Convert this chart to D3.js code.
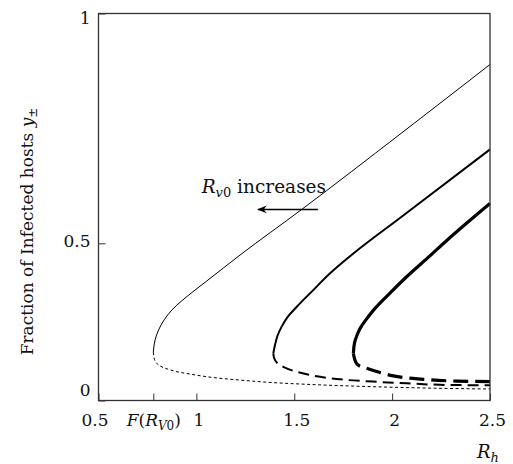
<!DOCTYPE html>
<html>
<head>
<meta charset="utf-8">
<script src="https://cdn.jsdelivr.net/npm/d3@7"></script>
<style>
  body { margin: 0; background: #fff; }
  svg text { fill: #111; }
</style>
</head>
<body>
<svg id="chart" width="513" height="464"></svg>
<script>
const serif = "DejaVu Serif";

// Tick values
const xTicks = [0.5, 0.78, 1, 1.5, 2, 2.5];
const yTicks = [0, 0.5, 1];

// Branches [Rh, y]; each starts at its turning point
const upper1 = [[0.780, 0.202], [0.789, 0.240], [0.807, 0.270], [0.835, 0.299], [0.875, 0.327],
  [0.927, 0.353], [0.988, 0.379], [1.053, 0.405], [1.223, 0.471], [1.538, 0.581], [2.040, 0.750], [2.5, 0.897]];
const lower1 = [[0.780, 0.202], [0.784, 0.183], [0.797, 0.165], [0.882, 0.139], [0.967, 0.127], [1.053, 0.117],
  [1.223, 0.104], [1.391, 0.094], [1.564, 0.087], [1.902, 0.077], [2.245, 0.070], [2.5, 0.067]];

const upper2 = [[1.393, 0.198], [1.402, 0.225], [1.414, 0.252], [1.435, 0.279], [1.463, 0.305],
  [1.513, 0.336], [1.597, 0.381], [1.683, 0.425], [1.802, 0.475], [2.040, 0.561], [2.5, 0.717]];
const lower2 = [[1.393, 0.198], [1.397, 0.183], [1.417, 0.163], [1.444, 0.153], [1.564, 0.126], [1.734, 0.107],
  [1.904, 0.098], [2.074, 0.091], [2.245, 0.085], [2.5, 0.083]];

const upper3 = [[1.802, 0.198], [1.808, 0.231], [1.821, 0.255], [1.838, 0.276], [1.867, 0.300],
  [1.904, 0.326], [1.989, 0.373], [2.074, 0.416], [2.193, 0.469], [2.279, 0.507], [2.5, 0.595]];
const lower3 = [[1.802, 0.198], [1.808, 0.180], [1.826, 0.159], [1.870, 0.148], [2.006, 0.120], [2.159, 0.107],
  [2.330, 0.100], [2.5, 0.098]];

const curves = [
  { upper: upper1, lower: lower1, width: 1, dash: '3,2.5' },
  { upper: upper2, lower: lower2, width: 2, dash: '11,6' },
  { upper: upper3, lower: lower3, width: 3.2, dash: '15,7' }
];

const margin = { top: 13.5, right: 23, bottom: 63.5, left: 98.5 };
const width = 513 - margin.left - margin.right;
const height = 464 - margin.top - margin.bottom;

const svg = d3.select('#chart');
const g = svg.append('g').attr('transform', `translate(${margin.left},${margin.top})`);

const x = d3.scaleLinear().domain([0.5, 2.5]).range([0, width]);
const y = d3.scalePow().exponent(1.3).domain([0, 1]).range([height, 0]);

const upperLine = d3.line()
  .x(d => x(d[0]))
  .y(d => y(d[1]))
  .curve(d3.curveMonotoneY);

const lowerLine = d3.line()
  .x(d => x(d[0]))
  .y(d => y(d[1]))
  .curve(d3.curveMonotoneX);

// Curves
curves.forEach(c => {
  g.append('path')
    .attr('d', upperLine(c.upper))
    .attr('fill', 'none')
    .attr('stroke', '#000')
    .attr('stroke-width', c.width);

  g.append('path')
    .attr('d', lowerLine(c.lower))
    .attr('fill', 'none')
    .attr('stroke', '#000')
    .attr('stroke-width', c.width)
    .attr('stroke-dasharray', c.dash);
});

// X axis
const xAxis = g.append('g')
  .attr('transform', `translate(0,${height})`)
  .call(d3.axisBottom(x).tickValues(xTicks).tickSize(-7).tickPadding(13)
    .tickFormat(d => d === 0.78 ? '' : d3.format('')(d)));
xAxis.attr('font-family', serif);
xAxis.select('.domain').remove();
xAxis.selectAll('line').attr('stroke', '#333');
xAxis.selectAll('text')
  .attr('font-size', 17)
  .attr('dx', d => d === 0.5 ? -4 : 2);

// F(R_V0) label
const fLabel = xAxis.selectAll('.tick').filter(d => d === 0.78).select('text');
fLabel.append('tspan').attr('font-style', 'italic').text('F');
fLabel.append('tspan').text('(');
fLabel.append('tspan').attr('font-style', 'italic').text('R');
fLabel.append('tspan').attr('font-style', 'italic').attr('font-size', 12).attr('dy', 4).text('V');
fLabel.append('tspan').attr('font-size', 12).text('0');
fLabel.append('tspan').attr('dy', -4).text(')');
fLabel.attr('dx', 0);

// Y axis
const yAxis = g.append('g')
  .call(d3.axisLeft(y).tickValues(yTicks).tickSize(-7).tickPadding(8)
    .tickFormat(d3.format('')));
yAxis.attr('font-family', serif);
yAxis.select('.domain').remove();
yAxis.selectAll('line').attr('stroke', '#333');
yAxis.selectAll('text')
  .attr('font-size', 17)
  .attr('dy', d => d === 0 ? '-0.3em' : d === 1 ? '0.6em' : '0.18em');

// Frame
g.append('rect')
  .attr('width', width)
  .attr('height', height)
  .attr('fill', 'none')
  .attr('stroke', '#333')
  .attr('stroke-width', 1.3);

// Axis titles
const yTitle = svg.append('text')
  .attr('transform', `translate(33,${margin.top + 218}) rotate(-90)`)
  .attr('text-anchor', 'middle')
  .attr('font-family', serif)
  .attr('font-size', 17);
yTitle.append('tspan').text('Fraction of Infected hosts ');
yTitle.append('tspan').attr('font-style', 'italic').text('y');
yTitle.append('tspan').attr('font-size', 12).attr('dy', 4).text('±');

const xTitle = svg.append('text')
  .attr('x', margin.left + width - 13)
  .attr('y', 458)
  .attr('font-family', serif)
  .attr('font-size', 18);
xTitle.append('tspan').attr('font-style', 'italic').text('R');
xTitle.append('tspan').attr('font-style', 'italic').attr('font-size', 13).attr('dy', 4).text('h');

// Annotation
const note = g.append('text')
  .attr('x', x(1.027))
  .attr('y', y(0.620))
  .attr('font-family', serif)
  .attr('font-size', 18.5);
note.append('tspan').attr('font-style', 'italic').text('R');
note.append('tspan').attr('font-style', 'italic').attr('font-size', 13).attr('dy', 4).text('v');
note.append('tspan').attr('font-size', 13).text('0');
note.append('tspan').attr('dy', -4).text(' increases');

svg.append('defs').append('marker')
  .attr('id', 'arrow')
  .attr('viewBox', '0 0 10 10')
  .attr('refX', 9).attr('refY', 5)
  .attr('markerWidth', 6).attr('markerHeight', 6)
  .attr('markerUnits', 'strokeWidth')
  .attr('orient', 'auto')
  .append('path')
  .attr('d', 'M10,5 L0,1 L3,5 L0,9 Z')
  .attr('fill', '#000');

g.append('line')
  .attr('x1', x(1.621)).attr('y1', y(0.581))
  .attr('x2', x(1.315)).attr('y2', y(0.581))
  .attr('stroke', '#000')
  .attr('stroke-width', 1.6)
  .attr('marker-end', 'url(#arrow)');
</script>
</body>
</html>
